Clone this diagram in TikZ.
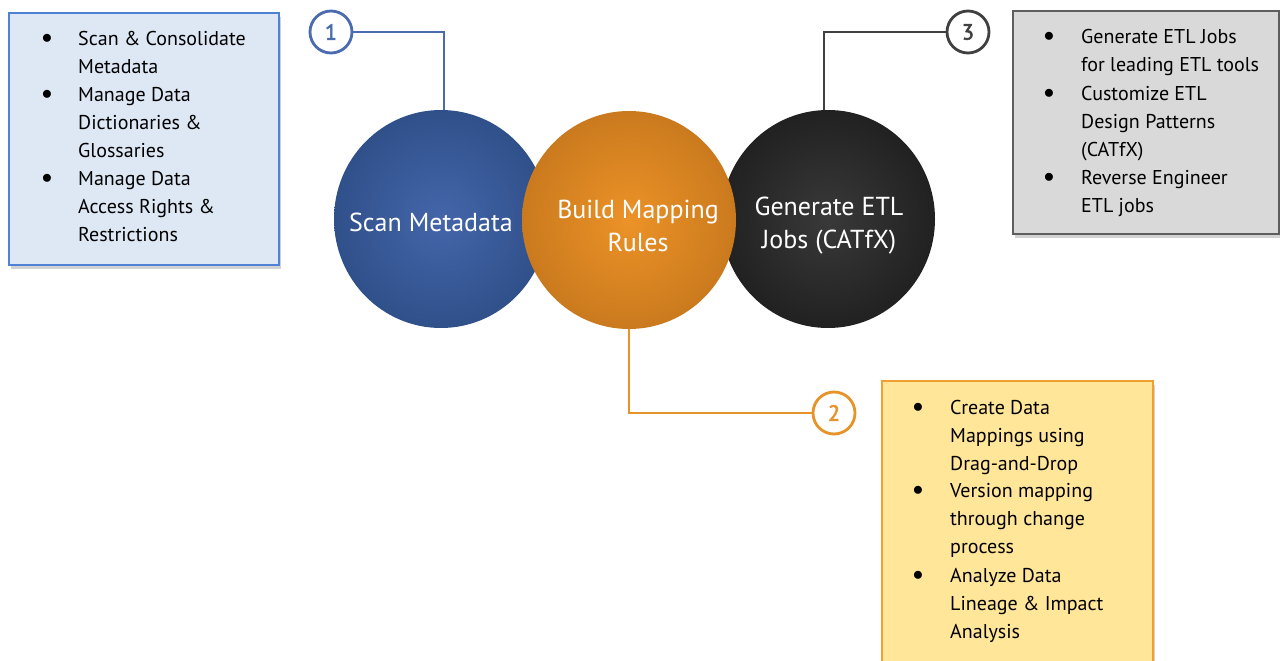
\documentclass[tikz,border=0pt]{standalone}
\usepackage{fontspec}
\setmainfont{PT Sans}
\newfontfamily\numfont{PT Sans}[FakeBold=2.5]
\usetikzlibrary{shapes.geometric,shadows}
\definecolor{bluec}{HTML}{4466AA}
\definecolor{bluecd}{HTML}{30508A}
\definecolor{orc}{HTML}{EC9227}
\definecolor{orcd}{HTML}{CA7A1E}
\definecolor{dkc}{HTML}{3A3939}
\definecolor{dkcd}{HTML}{222121}
\definecolor{bluebox}{HTML}{DEE8F5}
\definecolor{blueboxline}{HTML}{4F81D6}
\definecolor{graybox}{HTML}{D9D9D9}
\definecolor{grayboxline}{HTML}{5E5E5E}
\definecolor{yelbox}{HTML}{FFE699}
\definecolor{yelboxline}{HTML}{F0A030}
\definecolor{numblue}{HTML}{4A6BAE}
\definecolor{numor}{HTML}{E8922A}
\definecolor{numdk}{HTML}{404040}
\tikzset{
  ball/.style={ellipse, inner sep=0pt, minimum width=214pt, minimum height=218pt},
  balltext/.style={text=white, align=center, inner sep=0pt, font=\fontsize{26}{33}\selectfont},
  numc/.style={circle, draw, line width=2.8pt, fill=white, minimum size=42pt, inner sep=0pt,
     font=\numfont\fontsize{22}{22}\selectfont},
  conn/.style={line width=2.4pt},
  infobox/.style={line width=1.6pt, drop shadow={shadow xshift=1.5pt, shadow yshift=-4pt, opacity=0.35}},
  bul/.style={inner sep=0pt, font=\fontsize{20}{28}\selectfont},
  btext/.style={anchor=north west, inner sep=0pt, align=left, font=\fontsize{20}{28}\selectfont}
}
\begin{document}
\begin{tikzpicture}[x=1pt,y=-1pt]
\useasboundingbox (0,0) rectangle (1280,661);
\clip (0,0) rectangle (1280,661);
\fill[white] (0,0) rectangle (1280,661);
% boxes
\filldraw[infobox, fill=bluebox, draw=blueboxline] (9,13) rectangle (279,265);
\filldraw[infobox, fill=graybox, draw=grayboxline] (1013,11) rectangle (1279,234);
\filldraw[infobox, fill=yelbox, draw=yelboxline] (882,381) rectangle (1153,690);
% circles
\node[ball, inner color=bluec, outer color=bluecd] (blue) at (441,219) {};
\node[ball, inner color=dkc, outer color=dkcd] (dark) at (828,219) {};
\node[ball, inner color=orc, outer color=orcd] (orange) at (629,220) {};
\node[balltext] (tblue) at (431,222) {Scan Metadata};
\node[balltext] (torange) at (638,226) {Build Mapping\\Rules};
\node[balltext] (tdark) at (829,226) {Generate ETL\\Jobs (CATfX)};
% attachment points on the circles
\coordinate (bt) at ([xshift=3pt]blue.north);
\coordinate (dt) at ([xshift=-4pt]dark.north);
% number circles
\node[numc, draw=numblue, text=numblue] (n1) at (331,32) {1};
\node[numc, draw=numdk, text=numdk] (n3) at (968,32) {3};
\node[numc, draw=numor, text=numor] (n2) at (834,413) {2};
% connectors
\draw[conn, numblue] (n1.east) -- (n1.east -| bt) -- (bt);
\draw[conn, numdk] (n3.west) -- (n3.west -| dt) -- (dt);
\draw[conn, numor] (orange.south) -- (orange.south |- n2.west) -- (n2.west);
% blue box text
\node[bul] (b11) at (47,39) {$\bullet$};
\node[btext] (t11) at (78,31) {Scan \& Consolidate\\Metadata};
\node[bul] (b12) at (47,95) {$\bullet$};
\node[btext] (t12) at (78,87) {Manage Data\\Dictionaries \&\\Glossaries};
\node[bul] (b13) at (47,179) {$\bullet$};
\node[btext] (t13) at (78,171) {Manage Data\\Access Rights \&\\Restrictions};
% gray box text
\node[bul] (b31) at (1049,37) {$\bullet$};
\node[btext] (t31) at (1081,29) {Generate ETL Jobs\\for leading ETL tools};
\node[bul] (b32) at (1049,94) {$\bullet$};
\node[btext] (t32) at (1081,86) {Customize ETL\\Design Patterns\\(CATfX)};
\node[bul] (b33) at (1049,178) {$\bullet$};
\node[btext] (t33) at (1081,170) {Reverse Engineer\\ETL jobs};
% yellow box text
\node[bul] (b21) at (918,408) {$\bullet$};
\node[btext] (t21) at (950,400) {Create Data\\Mappings using\\Drag-and-Drop};
\node[bul] (b22) at (918,491) {$\bullet$};
\node[btext] (t22) at (950,483) {Version mapping\\through change\\process};
\node[bul] (b23) at (918,576) {$\bullet$};
\node[btext] (t23) at (950,568) {Analyze Data\\Lineage \& Impact\\Analysis};
\end{tikzpicture}
\end{document}
